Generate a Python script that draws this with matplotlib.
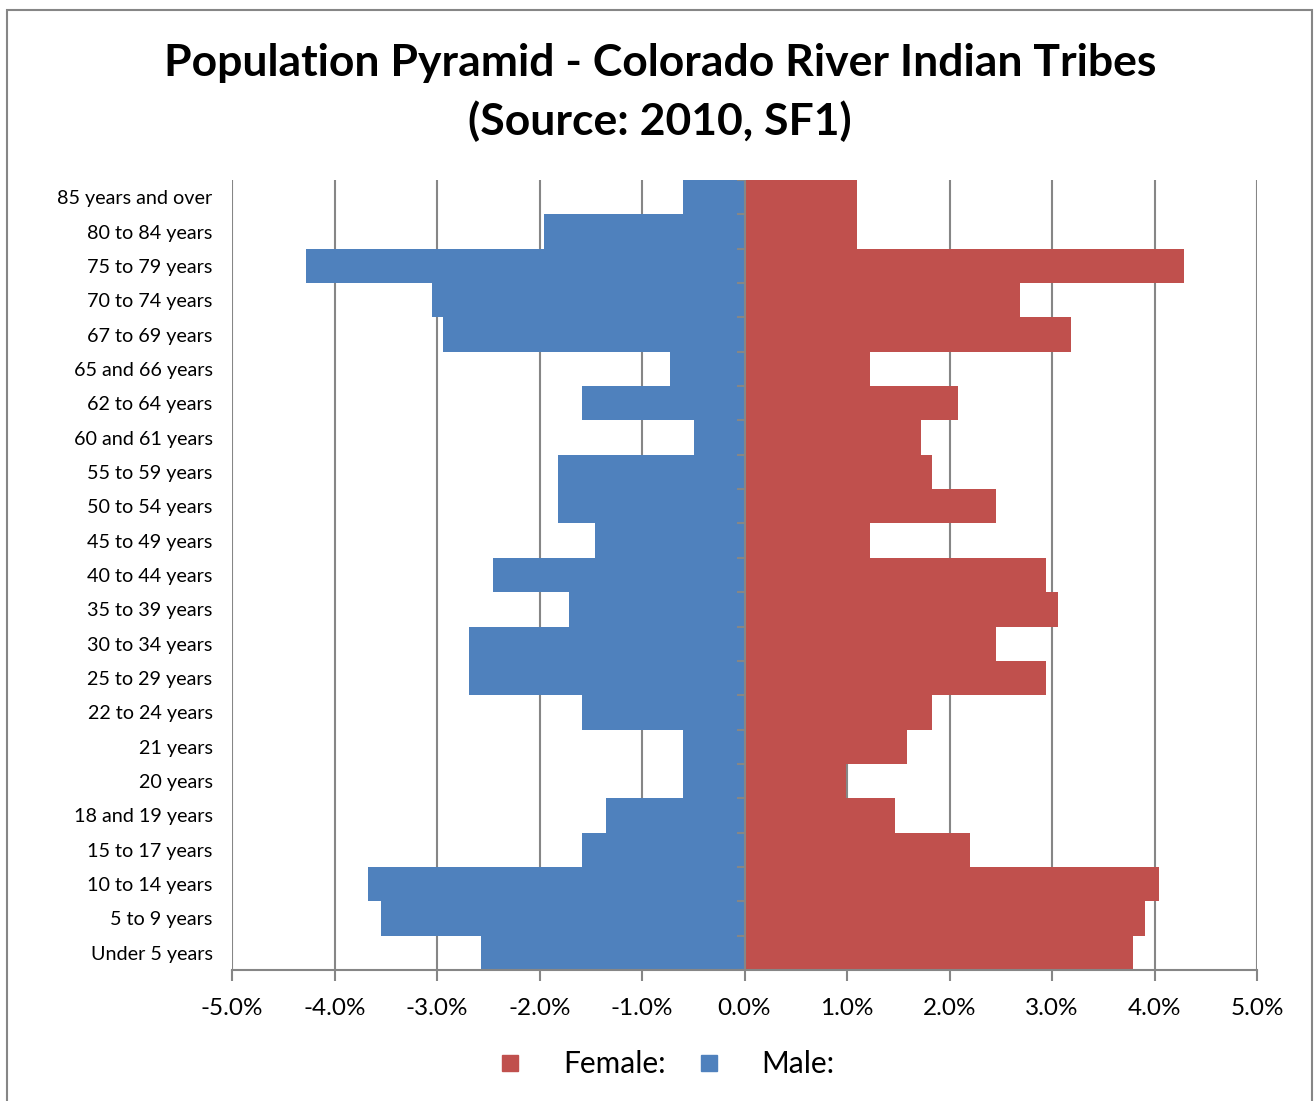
import numpy as np
from matplotlib import pyplot as plt
from matplotlib.patches import Rectangle
from matplotlib.lines import Line2D

plt.rcParams['font.family'] = ['Lato', 'DejaVu Sans']

# age groups, bottom to top
ages = ['Under 5 years', '5 to 9 years', '10 to 14 years', '15 to 17 years',
        '18 and 19 years', '20 years', '21 years', '22 to 24 years',
        '25 to 29 years', '30 to 34 years', '35 to 39 years', '40 to 44 years',
        '45 to 49 years', '50 to 54 years', '55 to 59 years', '60 and 61 years',
        '62 to 64 years', '65 and 66 years', '67 to 69 years', '70 to 74 years',
        '75 to 79 years', '80 to 84 years', '85 years and over']

# percent of population
male = [2.57, 3.55, 3.67, 1.59, 1.35, 0.60, 0.60, 1.59, 2.69, 2.69, 1.71, 2.45,
        1.46, 1.82, 1.82, 0.49, 1.59, 0.73, 2.94, 3.05, 4.28, 1.96, 0.60]
female = [3.79, 3.91, 4.04, 2.20, 1.47, 0.99, 1.59, 1.83, 2.94, 2.45, 3.06, 2.94,
          1.22, 2.45, 1.83, 1.72, 2.08, 1.22, 3.19, 2.69, 4.29, 1.10, 1.10]

xticks = [-5, -4, -3, -2, -1, 0, 1, 2, 3, 4, 5]

red = '#C0504D'
blue = '#4F81BD'
gray = '#868686'

fig = plt.figure(figsize=(13.15, 11.01), dpi=100)
ax = fig.add_axes([232/1315, 1-970/1101, (1257-232)/1315, (970-180)/1101])

y = np.arange(len(ages))
ax.barh(y, female, height=1.0, color=red, zorder=2)
ax.barh(y, -np.array(male), height=1.0, color=blue, zorder=2)

ax.set_xlim(-5, 5)
ax.set_ylim(-0.5, len(ages) - 0.5)
ax.set_xticks(xticks)
ax.set_xticklabels(['%.1f%%' % v for v in xticks], fontsize=17.5)
ax.set_yticks(y)
ax.set_yticklabels(ages, fontsize=14.2)
ax.tick_params(axis='y', length=0, pad=14)
ax.tick_params(axis='x', length=8, width=1.5, color=gray, pad=12)

for v in xticks:
    ax.axvline(v, color=gray, lw=1.5, zorder=1)
ax.axvline(0, color=gray, lw=1.5, zorder=3)
ax.hlines(np.arange(len(ages) + 1) - 0.5, -0.07, 0, color=gray, lw=1.5, zorder=3)

for s in ['top', 'right', 'left']:
    ax.spines[s].set_visible(False)
ax.spines['bottom'].set_color(gray)
ax.spines['bottom'].set_linewidth(1.5)

fig.text(660/1315, 1-63/1101, 'Population Pyramid - Colorado River Indian Tribes',
         ha='center', va='center', fontsize=32, fontweight='bold')
fig.text(660/1315, 1-121/1101, '(Source: 2010, SF1)',
         ha='center', va='center', fontsize=32, fontweight='bold')

handles = [Line2D([], [], ls='', marker='s', markersize=12, color=red),
           Line2D([], [], ls='', marker='s', markersize=12, color=blue)]
fig.legend(handles, ['Female:', 'Male:'], loc='center', ncol=2,
           bbox_to_anchor=(665/1315, 1-1064/1101), frameon=False,
           fontsize=21.5, handlelength=1.0, handletextpad=1.27,
           columnspacing=0.93)

fig.patches.append(Rectangle((7/1315, -0.05), (1312-7)/1315, 1.05-10/1101,
                             transform=fig.transFigure, fill=False,
                             edgecolor=gray, lw=1.5))

fig.savefig('out.png', dpi=100)
